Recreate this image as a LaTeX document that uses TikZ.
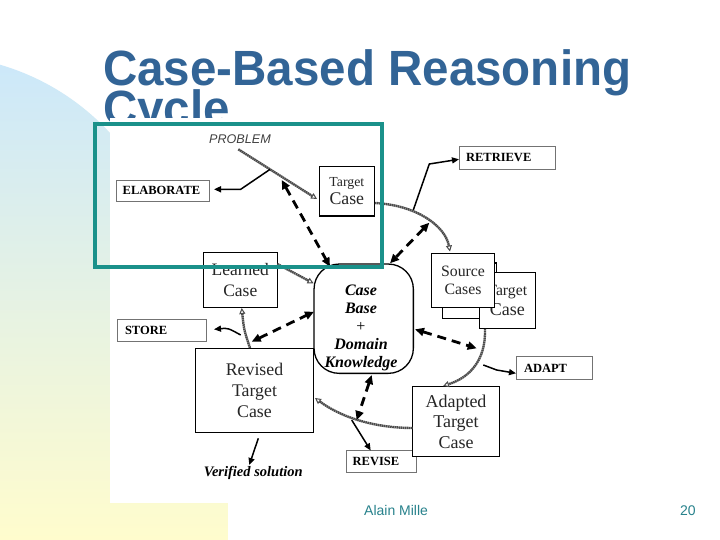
\documentclass[tikz,border=0pt]{standalone}
\usepackage{fontspec}
\setmainfont{Liberation Serif}
\newfontfamily\sansf{Liberation Sans}
\usetikzlibrary{arrows.meta,calc}
\definecolor{titleblue}{RGB}{50,100,150}
\definecolor{frameteal}{RGB}{26,145,138}
\definecolor{footc}{RGB}{40,130,140}
\definecolor{bgblue}{RGB}{204,232,250}
\definecolor{bgyellow}{RGB}{255,252,205}
\definecolor{hatchgray}{RGB}{75,75,75}
\begin{document}
\begin{tikzpicture}[x=1pt,y=-1pt,
  lbl/.style={draw=black!55, line width=0.8pt, font=\fontsize{12.5}{14}\selectfont\bfseries, align=left, inner ysep=0pt, fill=white},
  cbox/.style={draw=black, line width=1.3pt, fill=white, inner sep=0pt, align=center, text=black!85},
  hatch/.style={draw=hatchgray, line width=2.4pt, dash pattern=on 1.6pt off 0.5pt, -{Triangle[open, length=6pt, width=6pt, line width=1pt]}},
  sol/.style={draw=black, line width=1.5pt, -{Triangle[length=7pt, width=6pt]}},
  dsh/.style={draw=black, line width=2.8pt, dash pattern=on 9pt off 6pt, {Triangle[length=9pt, width=8pt]}-{Triangle[length=9pt, width=8pt]}}
]
\useasboundingbox (0,0) rectangle (720,540);
\fill[white] (0,0) rectangle (720,540);
% background blob
\begin{scope}
\path[clip] (0,540) -- (0,64.7) arc[start angle=73.7, end angle=0, radius=242pt] -- (174,503) -- (228,503) -- (228,540) -- cycle;
\shade[top color=bgblue, bottom color=bgyellow] (0,60) rectangle (228,540);
\end{scope}
% title
\node[anchor=base west, inner sep=0pt, text=titleblue, font=\sansf\bfseries\fontsize{49.5}{50}\selectfont] (t1) at (103,86) {\scalebox{0.96}[1]{Case-Based Reasoning}};
\node[anchor=base west, inner sep=0pt, text=titleblue, font=\sansf\bfseries\fontsize{49.5}{50}\selectfont] (t2) at (103,125.5) {\scalebox{0.96}[1]{Cycle}};
% diagram image area
\fill[white] (110,118) rectangle (720,503);

% label boxes
\node[lbl, minimum width=93, minimum height=20.3, inner xsep=6.7pt, text width=79.6pt] (elab) at (162.5,190.9) {ELABORATE};
\node[lbl, minimum width=95.7, minimum height=22.6, inner xsep=6.7pt, text width=82.3pt] (retr) at (507.2,158) {RETRIEVE};
\node[lbl, minimum width=76, minimum height=22.6, inner xsep=7.3pt, text width=61.4pt] (adapt) at (554.7,368) {ADAPT};
\node[lbl, minimum width=70, minimum height=22, inner xsep=6.7pt, text width=56.6pt] (revise) at (381,461.7) {REVISE};
\node[lbl, minimum width=89.4, minimum height=21.7, inner xsep=7.7pt, text width=74pt] (store) at (162,330.2) {STORE};

% content boxes
\node[cbox, minimum width=55, minimum height=49.3] (tc1) at (346.8,191.3) {\fontsize{13.8}{19}\selectfont Target\\[2.5pt]\fontsize{17.8}{19}\selectfont Case};
\node[cbox, minimum width=74, minimum height=54.6, font=\fontsize{17.5}{21.5}\selectfont] (learn) at (240.3,280) {Learned\\Case};
\node[cbox, minimum width=54, minimum height=55.3] (behind) at (469.7,290.7) {};
\node[cbox, minimum width=56, minimum height=55.6] (tc2) at (507.3,300.5) {\fontsize{15.7}{19}\selectfont Target\\[3.5pt]\fontsize{18}{19}\selectfont Case};
\node[cbox, minimum width=62.6, minimum height=54, font=\fontsize{15.8}{18.5}\selectfont] (src) at (463,280.3) {Source\\Cases};
\node[cbox, minimum width=117.6, minimum height=84.4, font=\fontsize{17.8}{21}\selectfont] (rev) at (254.5,390.5) {Revised\\Target\\Case};
\node[cbox, minimum width=86.6, minimum height=70, font=\fontsize{18}{20.8}\selectfont] (adp) at (456,421.7) {Adapted\\Target\\Case};
\node[draw=black, line width=1.3pt, fill=white, rounded corners=25pt, minimum width=99.3, minimum height=109.3] (cb) at (363.7,318.7) {};
\node[align=center, inner sep=0pt, font=\fontsize{16}{18}\selectfont\bfseries\itshape] (cbt) at (361,327.5) {Case\\Base\\{\normalfont +}\\Domain\\Knowledge};

% free texts
\node[inner sep=0pt, text=black!75, font=\sansf\itshape\fontsize{12.6}{14}\selectfont] (prob) at (240,139) {PROBLEM};
\node[inner sep=0pt, font=\fontsize{14.5}{16}\selectfont\bfseries\itshape] (ver) at (253.3,473.3) {Verified solution};

% coordinates
\coordinate (p0) at (238.3,149.3);
\coordinate (p1) at (270,169.4);
\coordinate (p2) at (317,199);
\coordinate (e1) at (240.7,189.3);
\coordinate (e2) at (214,189.3);
\coordinate (r0) at (375,203);
\coordinate (r1) at (413.3,210);
\coordinate (r2) at (429.3,164);
\coordinate (r3) at (459,159.3);
\coordinate (r4) at (450,251.5);
\coordinate (a0) at (485,329);
\coordinate (a1) at (443,386);
\coordinate (a2) at (483.3,365);
\coordinate (a3) at (496.7,370);
\coordinate (a4) at (516,373.3);
\coordinate (v0) at (412.7,428);
\coordinate (v1) at (315,398);
\coordinate (v2) at (351.7,420);
\coordinate (v3) at (370.7,450.5);
\coordinate (l0) at (277.3,264);
\coordinate (l1) at (313.5,283.3);
\coordinate (l2) at (250,348);
\coordinate (l3) at (241.7,308);
\coordinate (s0) at (240.7,335);
\coordinate (s1) at (214,329.3);
\coordinate (f0) at (258.3,438.3);
\coordinate (f1) at (249.3,465);
\coordinate (d1a) at (281.7,180);
\coordinate (d1b) at (330,266.7);
\coordinate (d2a) at (429.3,222.7);
\coordinate (d2b) at (390,263.3);
\coordinate (d3a) at (415,329.3);
\coordinate (d3b) at (476.7,348.3);
\coordinate (d4a) at (371.7,375);
\coordinate (d4b) at (356.7,420);
\coordinate (d5a) at (251.7,341.7);
\coordinate (d5b) at (314,311.7);

% hatched flows
\draw[hatch] (p0) -- (p2);
\draw[hatch] (r0) .. controls (415,205) and (445,225) .. (r4);
\draw[hatch] (a0) .. controls (486,362) and (468,378) .. (a1);
\draw[hatch] (v0) .. controls (380,428) and (345,420) .. (v1);
\draw[hatch] (l0) -- (l1);
\draw[hatch] (l2) .. controls (244,330) .. (l3);

% solid arrows
\draw[sol] (p1) -- (e1) -- (e2);
\draw[sol] (r1) -- (r2) -- (r3);
\draw[sol] (a2) -- (a3) -- (a4);
\draw[sol] (v2) -- (v3);
\draw[sol] (s0) .. controls (228,328) .. (s1);
\draw[sol] (f0) -- (f1);

% dashed knowledge arrows
\draw[dsh] (d1a) -- (d1b);
\draw[dsh] (d2a) -- (d2b);
\draw[dsh] (d3a) -- (d3b);
\draw[dsh] (d4a) -- (d4b);
\draw[dsh] (d5a) -- (d5b);

% teal frame
\draw[frameteal, line width=4pt] (94.5,124) rectangle (382,266.7);

% footer
\node[anchor=base west, inner sep=0pt, text=footc, font=\sansf\fontsize{14}{16}\selectfont] (auth) at (364,515) {Alain Mille};
\node[anchor=base west, inner sep=0pt, text=footc, font=\sansf\fontsize{14}{16}\selectfont] (pg) at (680,515) {20};
\end{tikzpicture}
\end{document}
